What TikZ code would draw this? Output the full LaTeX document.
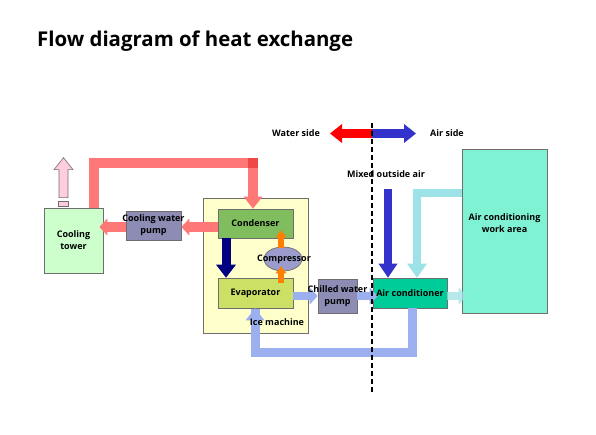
\documentclass[tikz,border=0pt]{standalone}
\usepackage{fontspec}
\setmainfont{Open Sans}
\usetikzlibrary{arrows.meta,shapes.geometric}
\definecolor{pipered}{HTML}{FF7878}
\definecolor{pipereddark}{HTML}{EE4848}
\definecolor{boxgray}{HTML}{6E6E6E}
\definecolor{towerfill}{HTML}{CCFFCC}
\definecolor{pinkfill}{HTML}{FFCCE0}
\definecolor{pumpfill}{HTML}{8C8CB4}
\definecolor{icefill}{HTML}{FFFFCC}
\definecolor{condfill}{HTML}{80BD5E}
\definecolor{evapfill}{HTML}{CCE066}
\definecolor{compfill}{HTML}{9C9CCC}
\definecolor{orangeA}{HTML}{FF8000}
\definecolor{navyA}{HTML}{000080}
\definecolor{mixblue}{HTML}{3333CC}
\definecolor{chillblue}{HTML}{9CB0F0}
\definecolor{cyanpipe}{HTML}{9CE2E6}
\definecolor{acfill}{HTML}{00CC99}
\definecolor{workfill}{HTML}{80F2D4}
\newcommand\lblfont{\bfseries\fontsize{9}{12}\selectfont}
\begin{document}
\begin{tikzpicture}[x=1pt,y=-1pt,
  box/.style={draw=boxgray, line width=0.7pt, inner sep=0pt, align=center, font=\lblfont},
  txt/.style={inner sep=0pt, align=center, font=\lblfont},
  bigtip/.style={-{Triangle[length=12pt,width=19pt,line width=0pt]}},
  smalltip/.style={-{Triangle[length=8pt,width=17pt,line width=0pt]}},
  orangetip/.style={-{Triangle[length=7pt,width=11pt,line width=0pt]}},
  redpipe/.style={draw=pipered, line width=10pt},
  bluepipe/.style={draw=chillblue, line width=9pt},
  cyanp/.style={draw=cyanpipe, line width=8pt}
]
\useasboundingbox (0,0) rectangle (596,435);

% title
\node[anchor=base west, inner sep=0pt, font=\bfseries\fontsize{20.4}{24}\selectfont] (title) at (37,47) {Flow diagram of heat exchange};

% ice machine box
\node[box, fill=icefill, minimum width=105pt, minimum height=135pt] (ice) at (256,265.5) {};

% key coordinates
\coordinate (rl) at (94,163);
\coordinate (rr) at (253,163);
\coordinate (ry) at (0,227);
\coordinate (nx) at (226,0);
\coordinate (ox) at (281,0);
\coordinate (cy) at (0,296);
\coordinate (bl) at (255,352);
\coordinate (br) at (412,352);
\coordinate (cyt) at (417,193);
\coordinate (mx) at (388,189);

% nodes
\node[box, fill=towerfill, minimum width=59pt, minimum height=65pt] (tower) at (73.5,240.5) {Cooling\\tower};
\node[box, fill=pinkfill, minimum width=10pt, minimum height=5pt] (cap) at (63.5,204) {};
\node[box, fill=pumpfill, minimum width=55pt, minimum height=29pt] (pump1) at (153.5,225.5) {};
\node[box, fill=condfill, minimum width=75pt, minimum height=29pt] (cond) at (255.5,223.5) {Condenser};
\node[box, fill=evapfill, minimum width=75pt, minimum height=30pt] (evap) at (255.5,293) {Evaporator};

% red pipe from tower to condenser
\draw[redpipe] (tower.north -| rl) -- (rl) -- ([xshift=5pt]rr);
\draw[redpipe, bigtip] ([yshift=5pt]rr) -- (cond.north -| rr);
\fill[pipereddark] ([xshift=-5pt,yshift=5pt]rr) rectangle ([xshift=5pt,yshift=-5pt]rr);
% red arrows condenser -> pump -> tower
\draw[redpipe, smalltip] (cond.west |- ry) -- (pump1.east |- ry);
\draw[redpipe, smalltip] (pump1.west |- ry) -- ([xshift=-4pt]tower.east |- ry);
\node[txt] (pump1t) at (pump1) {Cooling water\\pump};

% pink exhaust arrow
\draw[draw=boxgray, line width=0.6pt, fill=pinkfill]
  ([xshift=-4.5pt,yshift=3.5pt]cap.north) -- ++(0,-28) -- ++(-5,0) -- ++(9.5,-12) -- ++(9.5,12) -- ++(-5,0) -- ++(0,28) -- cycle;

% navy arrow condenser -> evaporator
\draw[navyA, line width=9pt, -{Triangle[length=13pt,width=20pt,line width=0pt]}] (cond.south -| nx) -- (evap.north -| nx);

% compressor
\node[box, ellipse, fill=compfill, minimum width=38pt, minimum height=24pt] (comp) at (283,259) {};
\draw[orangeA, line width=6pt, orangetip] ([yshift=-1pt]comp.north -| ox) -- ([yshift=8pt]cond.south -| ox);
\draw[orangeA, line width=6pt, orangetip] ([yshift=-5pt]evap.north -| ox) -- ([yshift=5pt]comp.south -| ox);
\node[txt] (compt) at (284,259) {Compressor};

% chilled water pump and air conditioner
\node[box, fill=pumpfill, minimum width=39pt, minimum height=34pt] (pump2) at (337.5,296) {};
\node[box, fill=acfill, minimum width=74pt, minimum height=30pt] (ac) at (410,293) {};
\node[box, fill=workfill, minimum width=85pt, minimum height=164pt] (work) at (504.5,231) {};

% blue chilled-water flow
\draw[bluepipe, line width=8pt, smalltip] (evap.east |- cy) -- (pump2.west |- cy);
\draw[bluepipe, line width=8pt, smalltip] (pump2.east |- cy) -- ([xshift=5pt]ac.west |- cy);
\draw[bluepipe] (ac.south -| br) -- (br) -- (bl) -- ([yshift=-1pt]evap.south -| bl);
\draw[bluepipe, bigtip] ([yshift=-4pt]bl) -- (evap.south -| bl);
\node[txt] (icet) at (277,322) {Ice machine};

% cyan return air
\draw[cyanp] (work.west |- cyt) -- ([xshift=-4pt]cyt) ;
\draw[cyanp, -{Triangle[length=14pt,width=20pt,line width=0pt]}] ([yshift=4pt]cyt) -- (ac.north -| cyt);
\draw[cyanp, opacity=0.75, smalltip] (ac.east |- cy) -- ([xshift=5pt]work.west |- cy);

% mixed outside air
\draw[mixblue, line width=8pt, -{Triangle[length=14pt,width=19pt,line width=0pt]}] (mx) -- (ac.north -| mx);

% texts
\node[txt] (pump2t) at (pump2) {Chilled water\\pump};
\node[txt] (act) at (ac) {Air conditioner};
\node[txt] (workt) at (504.5,223) {Air conditioning\\work area};
\node[txt] (mixt) at (386,174) {Mixed outside air};

% water side / air side
\coordinate (mid) at (372,133.5);
\coordinate (wtip) at (330,133.5);
\coordinate (atip) at (416,133.5);
\node[txt] (wst) at (296,133.5) {Water side};
\node[txt] (ast) at (447,133.5) {Air side};
\draw[red, line width=9pt, bigtip] (mid) -- (wtip);
\draw[mixblue, line width=9pt, bigtip] (mid) -- (atip);

% divider
\coordinate (dtop) at (372,123);
\coordinate (dbot) at (372,393);
\draw[black, line width=1.5pt, dash pattern=on 5pt off 3pt] (dtop) -- (dbot);
\end{tikzpicture}
\end{document}
